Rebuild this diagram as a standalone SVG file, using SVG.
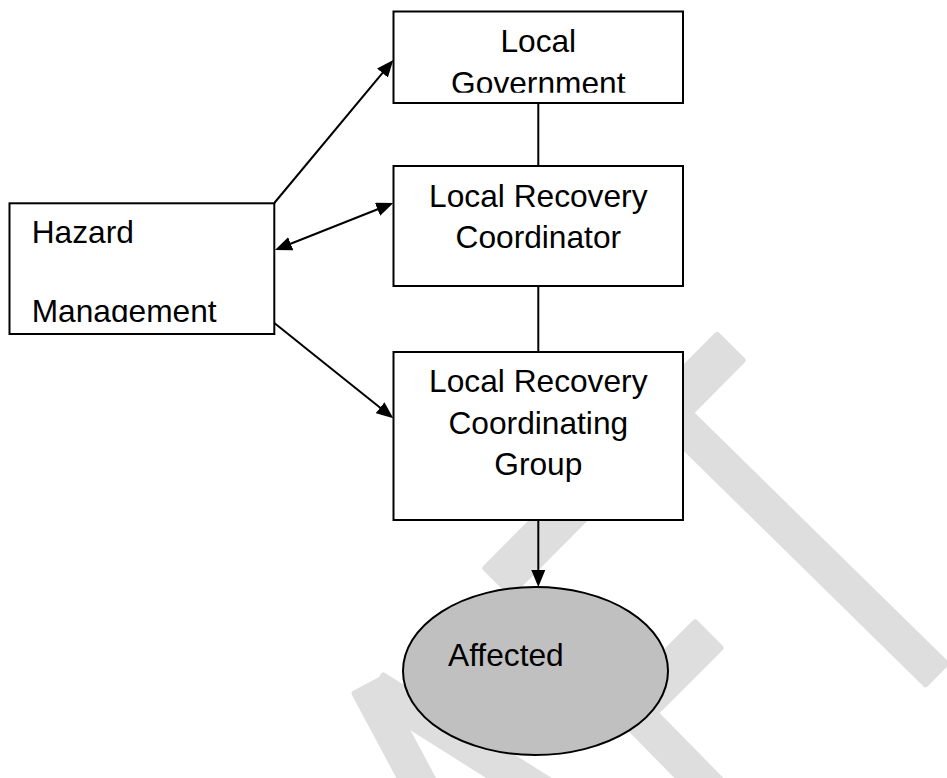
<svg xmlns="http://www.w3.org/2000/svg" width="947" height="778" viewBox="0 0 947 778">
<style>
.wm{fill:#dedede;stroke:#dedede;stroke-width:6;stroke-linejoin:round}
.box{fill:#ffffff;stroke:#000000;stroke-width:2}
.ell{fill:#c0c0c0;stroke:#000000;stroke-width:2}
.ln{fill:none;stroke:#000000;stroke-width:2}
.t{font-family:"Liberation Sans",Arial,sans-serif;font-size:31.7px;fill:#000000}
.c{text-anchor:middle}
</style>
<defs>
<marker id="ah" viewBox="0 0 17 14" refX="9" refY="7" markerWidth="17" markerHeight="14" markerUnits="userSpaceOnUse" orient="auto-start-reverse">
<path d="M0,0 L17,7 L0,14 z" fill="#000000"/>
</marker>
<clipPath id="clipLG"><rect x="394" y="12" width="288" height="80.7"/></clipPath>
<clipPath id="clipHM"><rect x="10" y="204" width="264" height="118"/></clipPath>
</defs>
<g id="watermark">
<polygon class="wm" points="742.66,360.32 510.88,593.56 485.34,568.18 717.12,334.94"/>
<polygon class="wm" points="666.99,430.45 925.71,684.25 946.01,663.55 687.29,409.75"/>
<polygon class="wm" points="720.61,647.85 654.85,713.61 629.39,688.15 695.15,622.39"/>
<polygon class="wm" points="626.95,725.29 708.05,808.01 728.75,787.71 647.65,704.99"/>
<polygon class="wm" points="380.20,679.82 439.28,790.52 413.70,804.18 354.62,693.48"/>
<polygon class="wm" points="368.01,700.07 543.63,810.67 559.09,786.13 383.47,675.53"/>
</g>
<g id="connectors">
<line class="ln" x1="538.3" y1="103" x2="538.3" y2="166"/>
<line class="ln" x1="538.3" y1="286" x2="538.3" y2="352"/>
<line class="ln" x1="274.3" y1="203" x2="388.2" y2="66.1" marker-end="url(#ah)"/>
<line class="ln" x1="282.4" y1="247.05" x2="385.9" y2="205.95" marker-start="url(#ah)" marker-end="url(#ah)"/>
<line class="ln" x1="274.3" y1="323" x2="387.06" y2="413.3" marker-end="url(#ah)"/>
<line class="ln" x1="538.3" y1="520" x2="538.3" y2="579" marker-end="url(#ah)"/>
</g>
<g id="node-local-government">
<rect class="box" x="393.5" y="11.5" width="289.5" height="91.5"/>
<g clip-path="url(#clipLG)">
<text class="t c" x="538.3" y="52.3">Local</text>
<text class="t c" x="538.3" y="93.6">Government</text>
</g>
</g>
<g id="node-hazard-management">
<rect class="box" x="9.5" y="203.3" width="264.8" height="130.7"/>
<g clip-path="url(#clipHM)">
<text class="t" x="31.7" y="243.3">Hazard</text>
<text class="t" x="31.7" y="322.4">Management</text>
</g>
</g>
<g id="node-local-recovery-coordinator">
<rect class="box" x="393.5" y="166" width="289.5" height="120"/>
<text class="t c" x="538.3" y="206.7">Local Recovery</text>
<text class="t c" x="538.3" y="248.3">Coordinator</text>
</g>
<g id="node-local-recovery-coordinating-group">
<rect class="box" x="393.5" y="352" width="289.5" height="168"/>
<text class="t c" x="538.3" y="391.7">Local Recovery</text>
<text class="t c" x="538.3" y="433.5">Coordinating</text>
<text class="t c" x="538.3" y="475">Group</text>
</g>
<g id="node-affected">
<ellipse class="ell" cx="535.5" cy="671" rx="132.5" ry="84"/>
<text class="t" x="448" y="666">Affected</text>
</g>
</svg>
